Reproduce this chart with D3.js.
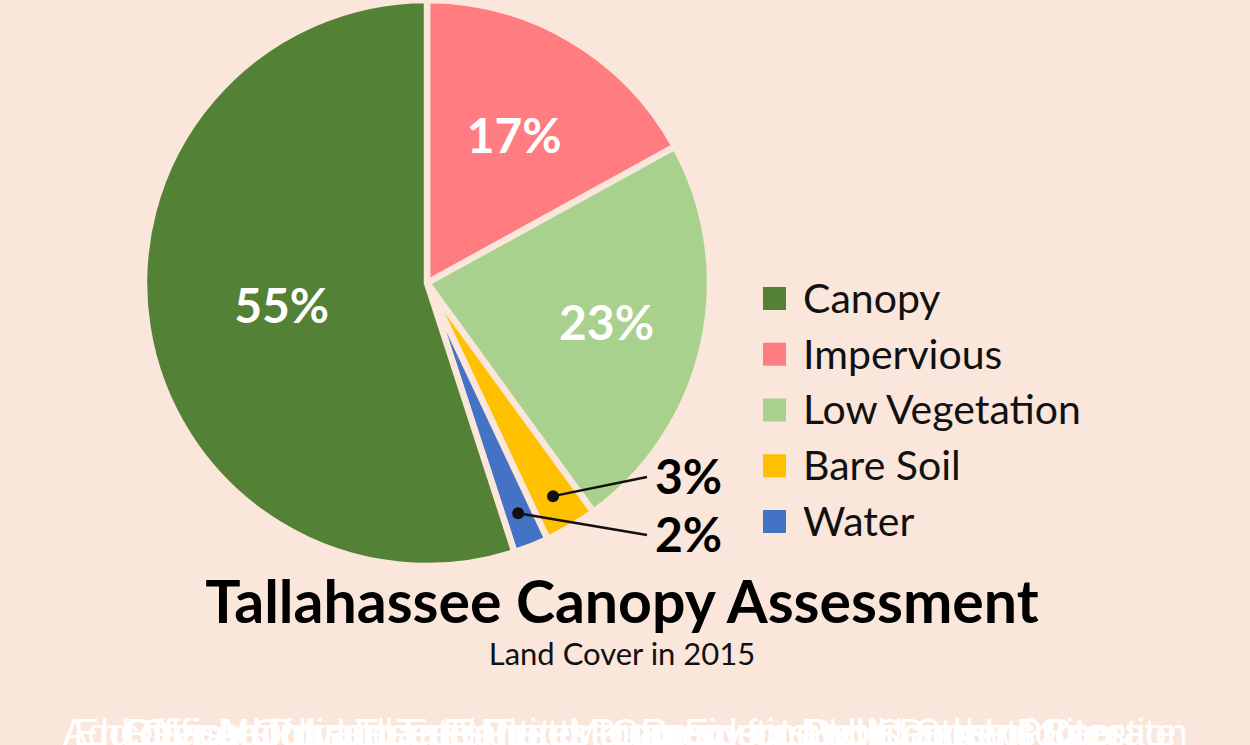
<!DOCTYPE html>
<html>
<head>
<meta charset="utf-8">
<script src="https://cdn.jsdelivr.net/npm/d3@7"></script>
<style>
  html, body { margin: 0; padding: 0; background: #fae6da; }
  svg { display: block; }
</style>
</head>
<body>
<div id="main"></div>
<script>
// chart values
const categories = ['Impervious', 'Low Vegetation', 'Bare Soil', 'Water', 'Canopy'];
const values = [17, 23, 3, 2, 55];
const colors = ['#ff7c80', '#a9d18e', '#ffc000', '#4472c4', '#538135'];
const legendOrder = ['Canopy', 'Impervious', 'Low Vegetation', 'Bare Soil', 'Water'];
const titleText = 'Tallahassee Canopy Assessment';
const subtitleText = 'Land Cover in 2015';
const captions = [
	'Encourage Private Tree Planting on Existing Lots and Incorporate',
	'Add Officers for Urban Forest Management and Canopy Protection',
	'Offer Mulch and Free Trees to Residents with Disks of Care',
	'Revise Ordinance to Protect Canopy on Development Sites',
	'Adopt a Tree Planting Program for Public Streets'
];

let width = 1250, height = 745;
let bg = '#fae6da';
let cx = 427, cy = 283, r = 283;

let svg = d3.select('#main').append('svg')
	.attr('width', width)
	.attr('height', height);

svg.append('rect').attr('width', width).attr('height', height).attr('fill', bg);

let data = categories.map((c, i) => ({name: c, value: values[i]}));
let color = d3.scaleOrdinal().domain(categories).range(colors);

let pie = d3.pie().sort(null).value(d => d.value);
let arc = d3.arc().innerRadius(0).outerRadius(r);
let arcs = pie(data);

let g = svg.append('g').attr('transform', 'translate(' + cx + ',' + cy + ')');

g.selectAll('path')
	.data(arcs)
	.enter()
	.append('path')
	.attr('d', arc)
	.attr('fill', d => color(d.data.name))
	.attr('stroke', bg)
	.attr('stroke-width', 6.5)
	.attr('stroke-linejoin', 'miter');

// big labels inside slices
let labelRadius = {'Canopy': 0.52, 'Impervious': 0.605, 'Low Vegetation': 0.65};
let pt = (a, rr) => [Math.sin(a) * rr, -Math.cos(a) * rr];

g.selectAll('text.inside')
	.data(arcs.filter(d => d.data.value >= 10))
	.enter()
	.append('text')
	.attr('class', 'inside')
	.attr('x', d => pt((d.startAngle + d.endAngle) / 2, r * labelRadius[d.data.name])[0])
	.attr('y', d => pt((d.startAngle + d.endAngle) / 2, r * labelRadius[d.data.name])[1])
	.attr('dy', '0.36em')
	.attr('text-anchor', 'middle')
	.attr('fill', '#fff')
	.attr('font-family', 'Lato, sans-serif')
	.attr('font-weight', 'bold')
	.attr('font-size', 48)
	.text(d => d.data.value + '%');

// callouts for small slices
let small = arcs.filter(d => d.data.value < 10);
let calloutEnd = {'Bare Soil': [220, 194], 'Water': [220, 252]};
small.forEach(d => {
	let p = pt((d.startAngle + d.endAngle) / 2, r * 0.875);
	let e = calloutEnd[d.data.name];
	g.append('line')
		.attr('x1', p[0]).attr('y1', p[1])
		.attr('x2', e[0]).attr('y2', e[1])
		.attr('stroke', '#111')
		.attr('stroke-width', 2.5);
	g.append('circle')
		.attr('cx', p[0]).attr('cy', p[1])
		.attr('r', 6)
		.attr('fill', '#111');
	g.append('text')
		.attr('x', e[0] + 8)
		.attr('y', e[1])
		.attr('dy', '0.36em')
		.attr('fill', '#000')
		.attr('font-family', 'Lato, sans-serif')
		.attr('font-weight', 'bold')
		.attr('font-size', 48)
		.text(d.data.value + '%');
});

// legend
let legend = svg.append('g').attr('transform', 'translate(763,298)');
let ly = d3.scalePoint().domain(legendOrder).range([0, 223]);
let item = legend.selectAll('g')
	.data(legendOrder)
	.enter()
	.append('g')
	.attr('transform', d => 'translate(0,' + ly(d) + ')');
item.append('rect')
	.attr('x', 0).attr('y', -11)
	.attr('width', 23).attr('height', 23)
	.attr('fill', d => color(d));
item.append('text')
	.attr('x', 40)
	.attr('dy', '0.36em')
	.attr('font-family', 'Lato, sans-serif')
	.attr('font-size', 41)
	.attr('fill', '#111')
	.text(d => d);

// titles
svg.append('text')
	.attr('x', 622).attr('y', 623)
	.attr('text-anchor', 'middle')
	.attr('font-family', 'Lato, sans-serif')
	.attr('font-weight', 'bold')
	.attr('font-size', 59)
	.attr('fill', '#000')
	.text(titleText);

svg.append('text')
	.attr('x', 622).attr('y', 665)
	.attr('text-anchor', 'middle')
	.attr('font-family', 'Lato, sans-serif')
	.attr('font-size', 31)
	.attr('fill', '#111')
	.text(subtitleText);

// overlapping captions at the bottom
svg.selectAll('text.caption')
	.data(captions)
	.enter()
	.append('text')
	.attr('class', 'caption')
	.attr('x', 625).attr('y', 746)
	.attr('text-anchor', 'middle')
	.attr('font-family', '"Liberation Sans", Arial, sans-serif')
	.attr('font-size', 38)
	.attr('fill', '#fff')
	.text(d => d);
</script>
</body>
</html>
